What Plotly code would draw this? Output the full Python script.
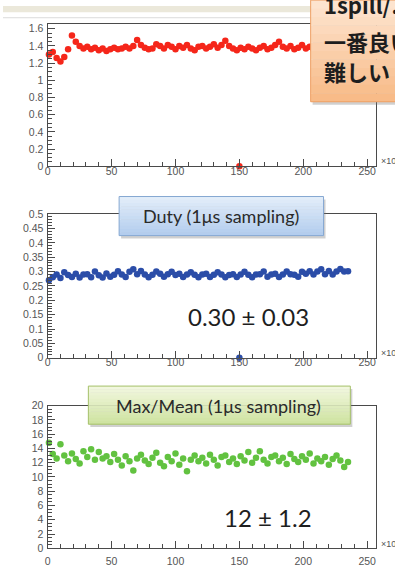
import plotly.graph_objects as go

W, H = 395, 567

# ---------------- data ----------------
x_vals = [1, 4, 7, 10, 13, 16, 19, 22, 25, 28,
          31, 34, 37, 40, 43, 46, 49, 52, 55, 58,
          61, 64, 67, 70, 73, 76, 79, 82, 85, 88,
          91, 94, 97, 100, 103, 106, 109, 112, 115, 118,
          121, 124, 127, 130, 133, 136, 139, 142, 145, 148,
          151, 154, 157, 160, 163, 166, 169, 172, 175, 178,
          181, 184, 187, 190, 193, 196, 199, 202, 205, 208,
          211, 214, 217, 220, 223, 226, 229, 232, 235]

ratio_vals = [1.30, 1.33, 1.26, 1.22, 1.27, 1.36, 1.52, 1.45, 1.40, 1.37,
              1.39, 1.36, 1.38, 1.35, 1.37, 1.34, 1.36, 1.38, 1.36, 1.37,
              1.39, 1.37, 1.40, 1.47, 1.41, 1.38, 1.36, 1.37, 1.42, 1.40,
              1.37, 1.41, 1.39, 1.36, 1.40, 1.38, 1.41, 1.37, 1.35, 1.39,
              1.40, 1.37, 1.39, 1.42, 1.38, 1.41, 1.46, 1.40, 1.37, 1.35,
              1.38, 1.36, 1.39, 1.37, 1.35, 1.38, 1.40, 1.36, 1.38, 1.41,
              1.45, 1.39, 1.37, 1.40, 1.36, 1.38, 1.41, 1.37, 1.39, 1.36,
              1.38, 1.40, 1.37, 1.39, 1.41, 1.38, 1.36, 1.39, 1.40]

duty_vals = [0.270, 0.280, 0.290, 0.278, 0.298, 0.288, 0.281, 0.292, 0.279, 0.290,
             0.291, 0.280, 0.300, 0.287, 0.279, 0.293, 0.282, 0.289, 0.301, 0.290,
             0.281, 0.299, 0.308, 0.291, 0.302, 0.290, 0.280, 0.289, 0.300, 0.292,
             0.282, 0.291, 0.299, 0.288, 0.292, 0.281, 0.290, 0.298, 0.289, 0.280,
             0.290, 0.292, 0.281, 0.289, 0.298, 0.290, 0.280, 0.288, 0.291, 0.281,
             0.290, 0.299, 0.289, 0.280, 0.290, 0.291, 0.300, 0.282, 0.290, 0.292,
             0.281, 0.290, 0.300, 0.291, 0.289, 0.282, 0.299, 0.292, 0.301, 0.290,
             0.300, 0.308, 0.291, 0.302, 0.290, 0.300, 0.309, 0.300, 0.301]

maxmean_vals = [14.8, 13.2, 12.6, 14.6, 13.0, 12.2, 13.3, 12.5, 11.9, 13.6,
                12.8, 13.9, 12.4, 13.5, 12.6, 12.9, 12.1, 13.2, 12.4, 11.6,
                12.9, 12.2, 10.9, 12.6, 13.1, 12.3, 11.8, 12.7, 13.4, 12.0,
                11.5, 12.8, 12.2, 13.3, 11.7, 12.6, 10.8, 12.4, 13.0, 12.2,
                12.7, 11.9, 13.1, 12.4, 11.6, 12.8, 13.0, 12.1, 12.6, 11.8,
                12.9, 12.3, 13.5, 12.0, 12.7, 13.6, 12.4, 11.9, 12.8, 13.0,
                12.2, 12.7, 11.8, 13.2, 12.5, 12.1, 12.9, 12.4, 13.3, 11.9,
                12.6, 12.2, 12.8, 11.7, 12.5, 13.0, 12.3, 11.4, 12.1]

outlier_x = [150]
ratio_outlier = [0.0]
duty_outlier = [0.0]

x_ticks = [0, 50, 100, 150, 200, 250]
y1_ticks = [0, 0.2, 0.4, 0.6, 0.8, 1.0, 1.2, 1.4, 1.6]
y2_ticks = [0, 0.05, 0.1, 0.15, 0.2, 0.25, 0.3, 0.35, 0.4, 0.45, 0.5]
y3_ticks = [0, 2, 4, 6, 8, 10, 12, 14, 16, 18, 20]

duty_title = "Duty (1μs sampling)"
duty_result = "0.30 ± 0.03"
maxmean_title = "Max/Mean (1μs sampling)"
maxmean_result = "12 ± 1.2"
note_lines = ["1spill/…", "一番良い", "難しい"]
x_exponent = "×10³"

# ---------------- helpers ----------------
def px(x):
    return x / W

def py(y):
    return 1 - y / H

RED = "#f5261a"
BLUE = "#2b4da8"
GREEN = "#62c240"
AX = "#4a4a4a"

fig = go.Figure()

mk = dict(size=6.5, symbol="circle", line=dict(width=0))
fig.add_trace(go.Scatter(x=x_vals, y=ratio_vals, mode="markers", marker=dict(color=RED, **mk),
                         xaxis="x", yaxis="y", cliponaxis=False, showlegend=False))
fig.add_trace(go.Scatter(x=outlier_x, y=ratio_outlier, mode="markers", marker=dict(color=RED, **mk),
                         xaxis="x", yaxis="y", cliponaxis=False, showlegend=False))
fig.add_trace(go.Scatter(x=x_vals, y=duty_vals, mode="markers", marker=dict(color=BLUE, **mk),
                         xaxis="x2", yaxis="y2", cliponaxis=False, showlegend=False))
fig.add_trace(go.Scatter(x=outlier_x, y=duty_outlier, mode="markers", marker=dict(color=BLUE, **mk),
                         xaxis="x2", yaxis="y2", cliponaxis=False, showlegend=False))
fig.add_trace(go.Scatter(x=x_vals, y=maxmean_vals, mode="markers", marker=dict(color=GREEN, **mk),
                         xaxis="x3", yaxis="y3", cliponaxis=False, showlegend=False))

xdom = [px(45), px(376)]
panels = [(18, 164), (213, 360), (409, 555)]
yranges = [[0, 1.66], [0, 0.5], [0, 20]]
yticks = [y1_ticks, y2_ticks, y3_ticks]
yminor = [0.05, 0.01, 0.5]
xstandoff = [-5, -5, 3]

tickfont = dict(family="Liberation Sans, Arial, sans-serif", size=10.5, color="#555555")
axis_common = dict(showline=True, mirror=True, linecolor=AX, linewidth=1.3,
                   ticks="inside", tickcolor=AX, tickwidth=1, ticklen=7,
                   showgrid=False, zeroline=False, tickfont=tickfont)

layout = dict(width=W, height=H, margin=dict(l=0, r=0, t=0, b=0),
              paper_bgcolor="white", plot_bgcolor="white", showlegend=False)

for i, (top, bot) in enumerate(panels):
    sfx = "" if i == 0 else str(i + 1)
    layout["xaxis" + sfx] = dict(domain=xdom, range=[0, 257], anchor="y" + sfx,
                                 tickvals=x_ticks, ticktext=[str(v) for v in x_ticks],
                                 minor=dict(dtick=10, tick0=0, ticks="inside", ticklen=4,
                                            tickcolor=AX, showgrid=False),
                                 ticklabelstandoff=xstandoff[i],
                                 **axis_common)
    layout["yaxis" + sfx] = dict(domain=[py(bot), py(top)], range=yranges[i], anchor="x" + sfx,
                                 tickvals=yticks[i], ticktext=[("%g" % v) for v in yticks[i]],
                                 minor=dict(dtick=yminor[i], tick0=0, ticks="inside", ticklen=4,
                                            tickcolor=AX, showgrid=False),
                                 ticklabelstandoff=1,
                                 **axis_common)

fig.update_layout(**layout)

shapes = []
annotations = []

# top beige strip of the slide + faint separator
shapes.append(dict(type="rect", xref="paper", yref="paper", x0=0, x1=1, y0=py(6.5), y1=1,
                   fillcolor="#ebe8da", line=dict(width=0), layer="below"))
shapes.append(dict(type="line", xref="paper", yref="paper", x0=0, x1=px(310), y0=py(12), y1=py(12),
                   line=dict(color="#dcdcdc", width=1), layer="below"))


def hexmix(c1, c2, t):
    a = [int(c1[k:k + 2], 16) for k in (1, 3, 5)]
    b = [int(c2[k:k + 2], 16) for k in (1, 3, 5)]
    return "#%02x%02x%02x" % tuple(round(a[j] + (b[j] - a[j]) * t) for j in range(3))


def callout(x0, y0, x1, y1, ctop, cbot, border, n=12):
    # shadow
    shapes.append(dict(type="rect", xref="paper", yref="paper",
                       x0=px(x0 + 2), x1=px(x1 + 2), y0=py(y1 + 3), y1=py(y0 + 3),
                       fillcolor="rgba(120,120,120,0.35)", line=dict(width=0), layer="above"))
    h = (y1 - y0) / n
    for k in range(n):
        shapes.append(dict(type="rect", xref="paper", yref="paper",
                           x0=px(x0), x1=px(x1), y0=py(y0 + (k + 1) * h + 0.3), y1=py(y0 + k * h),
                           fillcolor=hexmix(ctop, cbot, k / (n - 1)), line=dict(width=0),
                           layer="above"))
    shapes.append(dict(type="rect", xref="paper", yref="paper",
                       x0=px(x0), x1=px(x1), y0=py(y1), y1=py(y0),
                       fillcolor="rgba(0,0,0,0)", line=dict(color=border, width=1), layer="above"))


callout(117, 195, 323, 235, "#e2edf9", "#b3cdee", "#86a8d2")
callout(86, 389, 350, 428, "#f1f7de", "#cfe3a2", "#a5c06a")
callout(310, -6, 402, 98, "#fde4cf", "#f8bb88", "#eea066")

slide_font = "Lato, Open Sans, sans-serif"
annotations.append(dict(xref="paper", yref="paper", x=px(220), y=py(215), text=duty_title,
                        showarrow=False, xanchor="center", yanchor="middle",
                        font=dict(family=slide_font, size=18, color="#2a2a2a")))
annotations.append(dict(xref="paper", yref="paper", x=px(217), y=py(409), text=maxmean_title,
                        showarrow=False, xanchor="center", yanchor="middle",
                        font=dict(family=slide_font, size=18, color="#2a2a2a")))
annotations.append(dict(xref="paper", yref="paper", x=px(247), y=py(318), text=duty_result,
                        showarrow=False, xanchor="center", yanchor="middle",
                        font=dict(family=slide_font, size=24, color="#1e1e1e")))
annotations.append(dict(xref="paper", yref="paper", x=px(267), y=py(523), text=maxmean_result,
                        showarrow=False, xanchor="center", yanchor="middle",
                        font=dict(family=slide_font, size=24, color="#1e1e1e")))

jp_font = "Noto Sans CJK JP, sans-serif"
for line, yc in zip(note_lines, [-2, 36, 67]):
    annotations.append(dict(xref="paper", yref="paper", x=px(321), y=py(yc), text="<b>%s</b>" % line,
                            showarrow=False, xanchor="left", yanchor="middle",
                            font=dict(family=jp_font, size=22, color="#1e1e1e")))

for yb in [159, 355, 551]:
    annotations.append(dict(xref="paper", yref="paper", x=px(379), y=py(yb), text=x_exponent,
                            showarrow=False, xanchor="left", yanchor="middle",
                            font=dict(family="Liberation Sans, Arial, sans-serif", size=9,
                                      color="#555555")))

fig.update_layout(shapes=shapes, annotations=annotations)
fig.write_html("out.html")
